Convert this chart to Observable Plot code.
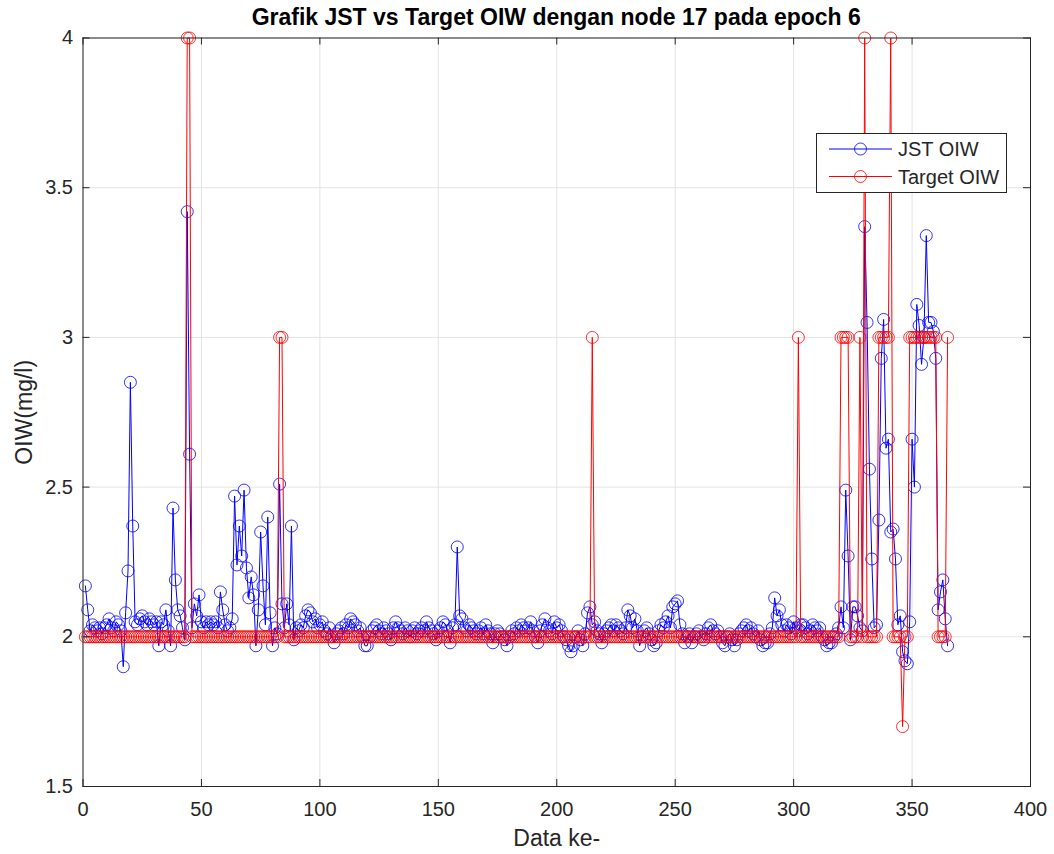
<!DOCTYPE html>
<html>
<head>
<meta charset="utf-8">
<script src="https://cdn.jsdelivr.net/npm/d3@7"></script>
<script src="https://cdn.jsdelivr.net/npm/@observablehq/plot@0.6"></script>
<style>
  html, body { margin: 0; padding: 0; background: #fff; }
  body { font-family: "Liberation Sans", Arial, Helvetica, sans-serif; }
  #wrap { position: relative; width: 1054px; height: 854px; overflow: hidden; }
  #title { position: absolute; left: 82.5px; width: 947.5px; top: 0; height: 30px; line-height: 34px;
           text-align: center; font-weight: bold; font-size: 23px; color: #000; }
  #chart { position: absolute; left: 0; top: 30px; }
  #legend { position: absolute; left: 816px; top: 133px; width: 189px; height: 58px;
            border: 1px solid #262626; background: #fff; }
  #legend svg { position: absolute; left: 0; top: 0; }
</style>
</head>
<body>
<div id="wrap">
  <div id="title">Grafik JST vs Target OIW dengan node 17 pada epoch 6</div>
  <div id="chart"></div>
  <div id="legend"></div>
</div>
<script>
// ---- data ----
const seriesNames = ["JST OIW", "Target OIW"];
const seriesColors = ["#0000ff", "#ff0000"];

const xTicks = [0, 50, 100, 150, 200, 250, 300, 350, 400];
const yTicks = [1.5, 2, 2.5, 3, 3.5, 4];

// JST output (Data ke- 1..365)
const jstOIW = [
  2.17, 2.09, 2.02, 2.04, 2.03, 2.02, 2.03, 2.01, 2.03, 2.04,
  2.06, 2.03, 2.02, 2.05, 2.04, 2.02, 1.90, 2.08, 2.22, 2.85,
  2.37, 2.05, 2.04, 2.06, 2.07, 2.05, 2.04, 2.06, 2.05, 2.04,
  2.05, 1.97, 2.05, 2.04, 2.09, 2.02, 1.97, 2.43, 2.19, 2.09,
  2.07, 2.03, 1.99, 3.42, 2.61, 2.03, 2.11, 2.07, 2.14, 2.05,
  2.03, 2.05, 2.04, 2.05, 2.04, 2.05, 2.03, 2.15, 2.09, 2.04,
  2.02, 2.03, 2.06, 2.47, 2.24, 2.37, 2.27, 2.49, 2.23, 2.13,
  2.20, 2.14, 1.97, 2.09, 2.35, 2.17, 2.04, 2.40, 2.08, 1.97,
  2.03, 2.01, 2.51, 2.11, 2.03, 2.11, 2.04, 2.37, 1.99, 2.03,
  2.02, 2.04, 2.03, 2.07, 2.09, 2.08, 2.05, 2.06, 2.03, 2.04,
  2.05, 2.02, 2.01, 2.03, 2.00, 1.98, 2.01, 2.02, 2.03, 2.01,
  2.04, 2.03, 2.06, 2.05, 2.04, 2.02, 2.03, 2.00, 1.97, 1.97,
  2.00, 2.02, 2.03, 2.04, 2.02, 2.01, 2.03, 2.02, 2.01, 1.99,
  2.03, 2.05, 2.03, 2.02, 2.01, 2.03, 2.02, 2.00, 2.02, 2.03,
  2.01, 2.02, 2.03, 2.02, 2.05, 2.03, 2.02, 2.01, 1.99, 2.02,
  2.03, 2.05, 2.04, 2.02, 1.98, 2.03, 2.04, 2.30, 2.07, 2.06,
  2.03, 2.02, 2.04, 2.03, 2.02, 2.01, 2.02, 2.03, 2.01, 2.04,
  2.02, 2.01, 1.98, 2.01, 2.02, 2.01, 2.00, 1.99, 1.97, 2.00,
  2.02, 2.01, 2.03, 2.02, 2.04, 2.03, 2.02, 2.03, 2.05, 2.02,
  2.00, 1.98, 2.02, 2.04, 2.06, 2.03, 2.02, 2.01, 2.05, 2.03,
  2.04, 2.02, 2.00, 1.99, 1.97, 1.95, 1.97, 2.00, 2.02, 1.99,
  1.97, 2.01, 2.08, 2.10, 2.04, 2.05, 2.02, 2.01, 1.98, 2.01,
  2.02, 2.03, 2.04, 2.02, 2.04, 2.03, 2.02, 2.01, 2.03, 2.09,
  2.07, 2.03, 2.06, 2.02, 1.97, 2.00, 2.02, 2.03, 2.01, 1.99,
  1.97, 1.98, 2.02, 2.04, 2.03, 2.05, 2.07, 2.03, 2.10, 2.11,
  2.12, 2.04, 2.01, 1.98, 2.00, 2.01, 1.98, 2.00, 2.01, 2.02,
  2.00, 1.99, 2.01, 2.03, 2.04, 2.02, 2.01, 2.02, 2.00, 1.98,
  1.97, 2.00, 2.01, 1.99, 1.97, 1.99, 2.01, 2.02, 2.03, 2.04,
  2.02, 2.03, 2.01, 2.00, 2.02, 1.99, 1.97, 1.98, 1.98, 2.01,
  2.03, 2.13, 2.07, 2.09, 2.04, 2.02, 2.04, 2.03, 2.01, 2.05,
  2.03, 2.02, 2.04, 2.04, 2.03, 2.01, 2.02, 2.04, 2.03, 2.02,
  2.03, 2.00, 1.99, 1.97, 1.98, 1.98, 2.00, 2.01, 2.03, 2.10,
  2.03, 2.49, 2.27, 1.99, 2.10, 2.10, 2.07, 2.03, 2.02, 3.37,
  3.05, 2.56, 2.26, 2.03, 2.04, 2.39, 2.93, 3.06, 2.63, 2.66,
  2.35, 2.36, 2.26, 2.04, 2.07, 1.95, 1.92, 1.91, 2.05, 2.66,
  2.50, 3.11, 3.04, 2.91, 3.00, 3.34, 3.05, 3.05, 3.02, 2.93,
  2.09, 2.15, 2.19, 2.06, 1.97
];

// Target (Data ke- 1..365)
const targetOIW = [
  2, 2, 2, 2, 2, 2, 2, 2, 2, 2,
  2, 2, 2, 2, 2, 2, 2, 2, 2, 2,
  2, 2, 2, 2, 2, 2, 2, 2, 2, 2,
  2, 2, 2, 2, 2, 2, 2, 2, 2, 2,
  2, 2, 2, 4, 4, 2, 2, 2, 2, 2,
  2, 2, 2, 2, 2, 2, 2, 2, 2, 2,
  2, 2, 2, 2, 2, 2, 2, 2, 2, 2,
  2, 2, 2, 2, 2, 2, 2, 2, 2, 2,
  2, 2, 3, 3, 2, 2, 2, 2, 2, 2,
  2, 2, 2, 2, 2, 2, 2, 2, 2, 2,
  2, 2, 2, 2, 2, 2, 2, 2, 2, 2,
  2, 2, 2, 2, 2, 2, 2, 2, 2, 2,
  2, 2, 2, 2, 2, 2, 2, 2, 2, 2,
  2, 2, 2, 2, 2, 2, 2, 2, 2, 2,
  2, 2, 2, 2, 2, 2, 2, 2, 2, 2,
  2, 2, 2, 2, 2, 2, 2, 2, 2, 2,
  2, 2, 2, 2, 2, 2, 2, 2, 2, 2,
  2, 2, 2, 2, 2, 2, 2, 2, 2, 2,
  2, 2, 2, 2, 2, 2, 2, 2, 2, 2,
  2, 2, 2, 2, 2, 2, 2, 2, 2, 2,
  2, 2, 2, 2, 2, 2, 2, 2, 2, 2,
  2, 2, 2, 2, 3, 2, 2, 2, 2, 2,
  2, 2, 2, 2, 2, 2, 2, 2, 2, 2,
  2, 2, 2, 2, 2, 2, 2, 2, 2, 2,
  2, 2, 2, 2, 2, 2, 2, 2, 2, 2,
  2, 2, 2, 2, 2, 2, 2, 2, 2, 2,
  2, 2, 2, 2, 2, 2, 2, 2, 2, 2,
  2, 2, 2, 2, 2, 2, 2, 2, 2, 2,
  2, 2, 2, 2, 2, 2, 2, 2, 2, 2,
  2, 2, 2, 2, 2, 2, 2, 2, 2, 2,
  2, 3, 2, 2, 2, 2, 2, 2, 2, 2,
  2, 2, 2, 2, 2, 2, 2, 2, 2, 3,
  3, 3, 3, 2, 2, 2, 2, 3, 2, 4,
  2, 2, 2, 2, 2, 3, 3, 3, 3, 3,
  4, 2, 2, 2, 2, 1.7, 2, 2, 3, 3,
  3, 3, 3, 3, 3, 3, 3, 3, 3, 3,
  2, 2, 2, 2, 3
];

// ---- build tables ----
const jstRows = jstOIW.map((v, i) => ({x: i + 1, y: v}));
const targetRows = targetOIW.map((v, i) => ({x: i + 1, y: v}));

const W = 1054, H = 824;
const mL = 82.5, mR = 24, mT = 7.5, mB = 68;
const plotW = W - mL - mR, plotH = H - mT - mB;
const axisColor = "#262626";
const gridColor = "#e3e3e3";
const font = "'Liberation Sans', Arial, Helvetica, sans-serif";

const chart = Plot.plot({
  width: W, height: H,
  marginLeft: mL, marginRight: mR, marginTop: mT, marginBottom: mB,
  x: {domain: [0, 400]},
  y: {domain: [1.5, 4]},
  style: {fontFamily: font, fontSize: "20px", color: axisColor, background: "#fff", overflow: "visible"},
  marks: [
    Plot.gridX(xTicks, {stroke: gridColor, strokeOpacity: 1}),
    Plot.gridY(yTicks, {stroke: gridColor, strokeOpacity: 1}),
    Plot.line(jstRows, {x: "x", y: "y", stroke: seriesColors[0], strokeWidth: 1}),
    Plot.dot(jstRows, {x: "x", y: "y", r: 6, stroke: seriesColors[0], fill: "none", strokeWidth: 1, strokeOpacity: 0.8}),
    Plot.line(targetRows, {x: "x", y: "y", stroke: seriesColors[1], strokeWidth: 1}),
    Plot.dot(targetRows, {x: "x", y: "y", r: 6, stroke: seriesColors[1], fill: "none", strokeWidth: 1, strokeOpacity: 0.8}),
    Plot.ruleX(xTicks, {x: d => d, stroke: axisColor, insetTop: plotH - 7}),
    Plot.ruleX(xTicks, {x: d => d, stroke: axisColor, insetBottom: plotH - 7}),
    Plot.ruleY(yTicks, {y: d => d, stroke: axisColor, insetRight: plotW - 7}),
    Plot.ruleY(yTicks, {y: d => d, stroke: axisColor, insetLeft: plotW - 7}),
    Plot.frame({stroke: axisColor, strokeWidth: 1}),
    Plot.axisX(xTicks, {tickSize: 0, tickPadding: 15, label: null, tickFormat: d => String(d), fill: axisColor, fontSize: 20}),
    Plot.axisY(yTicks, {tickSize: 0, tickPadding: 10, label: null, tickFormat: d => String(d), fill: axisColor, fontSize: 20}),
    Plot.text(["OIW(mg/l)"], {text: d => d, frameAnchor: "left", dx: -58, rotate: -90,
      textAnchor: "middle", lineAnchor: "middle", fontSize: 23, fill: axisColor}),
    Plot.text(["Data ke-"], {text: d => d, frameAnchor: "bottom", dy: 52,
      textAnchor: "middle", lineAnchor: "middle", fontSize: 23, fill: axisColor})
  ]
});
document.getElementById("chart").appendChild(chart);

// ---- legend ----
const lg = d3.select("#legend").append("svg").attr("width", 189).attr("height", 58);
seriesNames.forEach((name, i) => {
  const cy = 15 + i * 27.5;
  lg.append("line").attr("x1", 12).attr("x2", 75).attr("y1", cy).attr("y2", cy)
    .attr("stroke", seriesColors[i]).attr("stroke-width", 1);
  lg.append("circle").attr("cx", 43.5).attr("cy", cy).attr("r", 6)
    .attr("fill", "none").attr("stroke", seriesColors[i]).attr("stroke-opacity", 0.8);
  lg.append("text").attr("x", 81).attr("y", cy).attr("dy", "0.35em")
    .attr("font-family", font).attr("font-size", 20).attr("fill", axisColor).text(name);
});
</script>
</body>
</html>
